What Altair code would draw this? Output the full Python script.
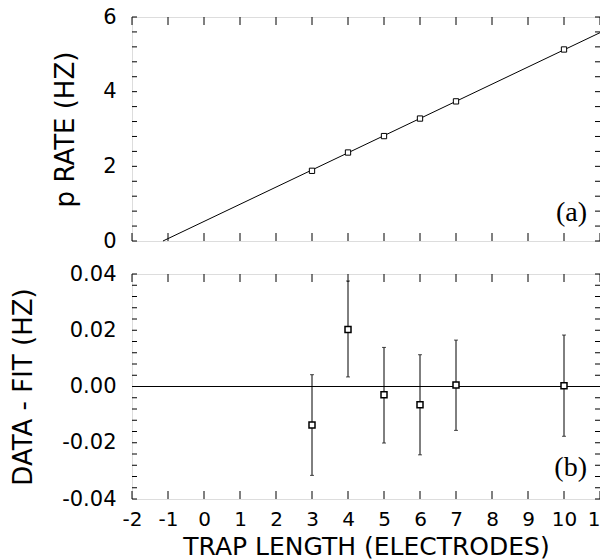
import altair as alt
import pandas as pd

# ---------------- data ----------------
trap_len = [3, 4, 5, 6, 7, 10]
rate_hz = [1.88, 2.37, 2.81, 3.28, 3.74, 5.13]

fit_x = [-1.14, 11.0]
fit_y = [0.0, 5.58]

resid = [-0.0137, 0.0203, -0.0029, -0.0065, 0.0005, 0.0003]
err_hi = [0.0042, 0.0375, 0.0139, 0.0113, 0.0165, 0.0183]
err_lo = [-0.0316, 0.0034, -0.0201, -0.0243, -0.0156, -0.0177]

x_ticks = list(range(-2, 12))
ya_ticks = [0.0, 0.4, 0.8, 1.2, 1.6, 2.0, 2.4, 2.8, 3.2, 3.6, 4.0, 4.4, 4.8, 5.2, 5.6, 6.0]
yb_ticks = [-0.04, -0.036, -0.032, -0.028, -0.024, -0.02, -0.016, -0.012, -0.008, -0.004,
            0.0, 0.004, 0.008, 0.012, 0.016, 0.02, 0.024, 0.028, 0.032, 0.036, 0.04]
zero = [0.0]

# ---------------- tables ----------------
pts = pd.DataFrame({"x": trap_len, "y": rate_hz})
fit = pd.DataFrame({"x": fit_x, "y": fit_y})
res = pd.DataFrame({"x": trap_len, "r": resid, "lo": err_lo, "hi": err_hi})
caps = pd.DataFrame({"x": trap_len + trap_len, "c": err_lo + err_hi})
zdf = pd.DataFrame({"z": zero})
xt = pd.DataFrame({"t": x_ticks})
yat = pd.DataFrame({"t": ya_ticks})
ybt = pd.DataFrame({"t": yb_ticks})

W = 468
HA = 224
HB = 225
SANS = "DejaVu Sans"
LABEL_SIZE = 21
XLABEL_SIZE = 20
TITLE_SIZE = 26
XTITLE_SIZE = 25
XTICK = 8
YTICK = 5

xs = alt.Scale(domain=[-2, 11], nice=False, zero=False)
ya_s = alt.Scale(domain=[0, 6], nice=False, zero=False)
yb_s = alt.Scale(domain=[-0.04, 0.04], nice=False, zero=False)

common = dict(domain=False, ticks=False, grid=False, labelOverlap=False, labelFlush=False,
              labelFont=SANS, labelColor="black", titleFont=SANS,
              titleFontWeight="normal", titleColor="black")

ax_x_none = alt.Axis(orient="bottom", values=x_ticks, labels=False, title=None,
                     labelFontSize=XLABEL_SIZE, titleFontSize=XTITLE_SIZE, **common)
ax_x_b = alt.Axis(orient="bottom", values=x_ticks, labels=True, labelPadding=10,
                  labelExpr="'' + datum.value", title="TRAP LENGTH (ELECTRODES)",
                  titlePadding=5, labelFontSize=XLABEL_SIZE, titleFontSize=XTITLE_SIZE,
                  **common)

expr_a = "abs(datum.value - round(datum.value / 2) * 2) < 1e-6 ? format(datum.value, 'd') : ''"
expr_b = ("abs(datum.value * 50 - round(datum.value * 50)) < 1e-6 ? "
          "replace(format(datum.value, '.2f'), '\u2212', '-') : ''")

ax_y_a = alt.Axis(orient="left", values=ya_ticks, labelExpr=expr_a, labelPadding=16,
                  title="p RATE (HZ)", titlePadding=24, labelFontSize=LABEL_SIZE,
                  titleFontSize=TITLE_SIZE, **common)
ax_y_b = alt.Axis(orient="left", values=yb_ticks, labelExpr=expr_b, labelPadding=16,
                  title="DATA - FIT (HZ)", titlePadding=25, labelFontSize=LABEL_SIZE,
                  titleFontSize=TITLE_SIZE, **common)


def tick_layers(yt_df, yscale, yaxis, h, xaxis):
    """Inward ticks on all four sides, placed through the scales."""
    bx = alt.Chart(xt).mark_rule(color="black", strokeWidth=1).encode(
        x=alt.X("t:Q", scale=xs, axis=xaxis), y=alt.value(h), y2=alt.value(h - XTICK))
    tx = alt.Chart(xt).mark_rule(color="black", strokeWidth=1).encode(
        x=alt.X("t:Q", scale=xs, axis=xaxis), y=alt.value(0), y2=alt.value(XTICK))
    ly = alt.Chart(yt_df).mark_rule(color="black", strokeWidth=1).encode(
        y=alt.Y("t:Q", scale=yscale, axis=yaxis), x=alt.value(0), x2=alt.value(YTICK))
    ry = alt.Chart(yt_df).mark_rule(color="black", strokeWidth=1).encode(
        y=alt.Y("t:Q", scale=yscale, axis=yaxis), x=alt.value(W), x2=alt.value(W - YTICK))
    return [bx, tx, ly, ry]


# ---------------- panel (a) ----------------
line_a = alt.Chart(fit).mark_line(color="black", strokeWidth=1).encode(
    x=alt.X("x:Q", scale=xs, axis=ax_x_none),
    y=alt.Y("y:Q", scale=ya_s, axis=ax_y_a),
)
pts_a = alt.Chart(pts).mark_point(shape="square", filled=True, fill="white",
                                  stroke="black", strokeWidth=1, size=28, opacity=1).encode(
    x=alt.X("x:Q", scale=xs, axis=ax_x_none),
    y=alt.Y("y:Q", scale=ya_s, axis=ax_y_a),
)
lab_a = alt.Chart(pd.DataFrame({"t": ["(a)"]})).mark_text(
    font="Liberation Serif", fontSize=28, align="right", baseline="middle", color="black"
).encode(x=alt.value(W - 13), y=alt.value(HA - 28), text="t:N")

panel_a = alt.layer(line_a, pts_a, *tick_layers(yat, ya_s, ax_y_a, HA, ax_x_none), lab_a).properties(
    width=W, height=HA)

# ---------------- panel (b) ----------------
zero_b = alt.Chart(zdf).mark_rule(color="black", strokeWidth=1).encode(
    y=alt.Y("z:Q", scale=yb_s, axis=ax_y_b),
)
err_b = alt.Chart(res).mark_rule(color="black", strokeWidth=1).encode(
    x=alt.X("x:Q", scale=xs, axis=ax_x_b),
    y=alt.Y("lo:Q", scale=yb_s, axis=ax_y_b),
    y2="hi:Q",
)
cap_b = alt.Chart(caps).mark_tick(color="black", orient="horizontal", size=4, thickness=1).encode(
    x=alt.X("x:Q", scale=xs, axis=ax_x_b),
    y=alt.Y("c:Q", scale=yb_s, axis=ax_y_b),
)
pts_b = alt.Chart(res).mark_point(shape="square", filled=True, fill="white",
                                  stroke="black", strokeWidth=1.5, size=36, opacity=1).encode(
    x=alt.X("x:Q", scale=xs, axis=ax_x_b),
    y=alt.Y("r:Q", scale=yb_s, axis=ax_y_b),
)
lab_b = alt.Chart(pd.DataFrame({"t": ["(b)"]})).mark_text(
    font="Liberation Serif", fontSize=28, align="right", baseline="middle", color="black"
).encode(x=alt.value(W - 13), y=alt.value(HB - 31), text="t:N")

panel_b = alt.layer(zero_b, err_b, cap_b, pts_b, *tick_layers(ybt, yb_s, ax_y_b, HB, ax_x_b),
                    lab_b).properties(width=W, height=HB)

chart = alt.vconcat(panel_a, panel_b, spacing=10).properties(
    padding={"top": -3, "left": 2, "right": -14, "bottom": 0}
).configure_view(stroke="black", strokeWidth=1).configure(background="white")

chart.save("out.html", embed_options={"renderer": "svg", "actions": False})
